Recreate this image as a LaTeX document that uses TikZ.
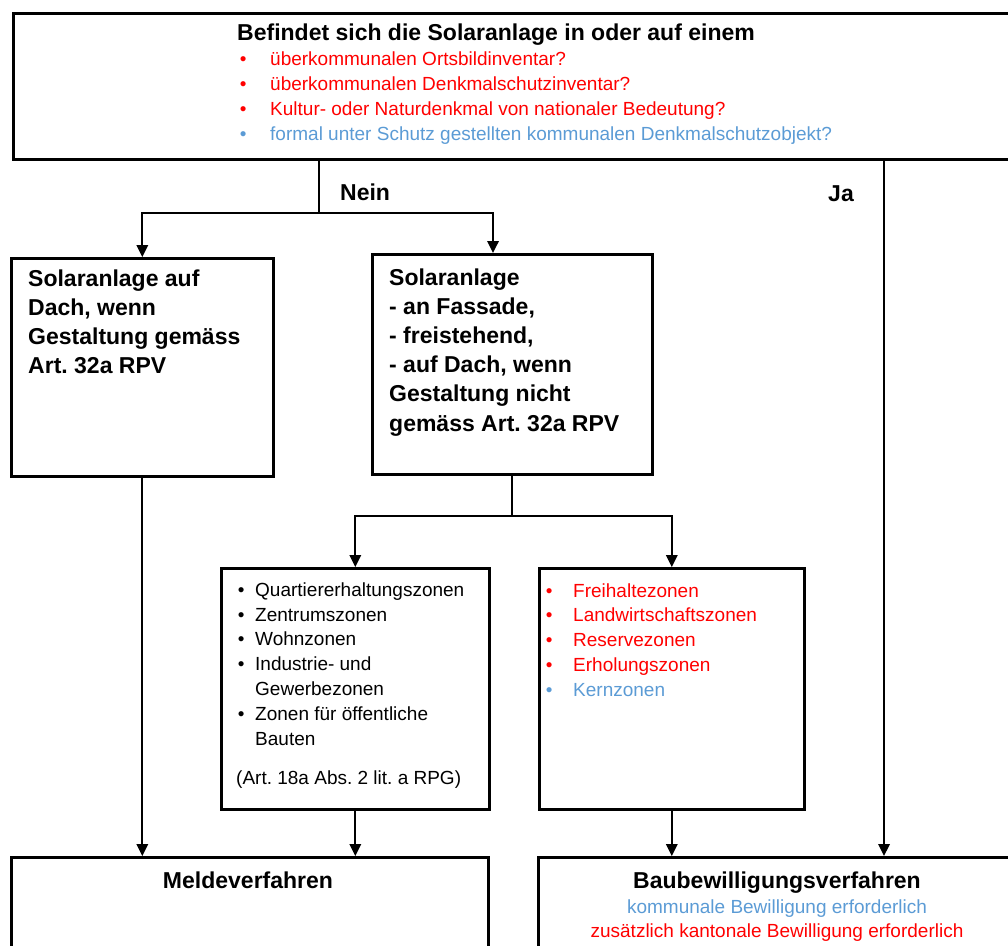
\documentclass[tikz,border=0pt]{standalone}
\usepackage{fontspec}
\setmainfont{Liberation Sans}
\usetikzlibrary{arrows.meta,calc}
\definecolor{rd}{RGB}{255,0,0}
\definecolor{bl}{RGB}{91,155,213}
\newcommand\bul[3]{\makebox[#1][l]{\textcolor{#2}{•}}\textcolor{#2}{#3}}
\frenchspacing
\begin{document}
\begin{tikzpicture}[x=1pt,y=-1pt,
  box/.style={draw,line width=2.6pt,anchor=north west,inner sep=0pt},
  conn/.style={line width=1.8pt},
  arr/.style={conn,-{Triangle[length=12pt,width=11.5pt]}},
  reg/.style={font=\fontsize{19}{24.8}\selectfont,inner sep=0pt,anchor=base west,align=left},
  bold/.style={font=\fontsize{23}{29.2}\bfseries\selectfont,inner sep=0pt,anchor=base west,align=left},
  ]
\useasboundingbox (0,0) rectangle (1008,945);
\clip (0,0) rectangle (1008,945);
% boxes
\node[box,minimum width=1030pt,minimum height=146pt] (q) at (12,12) {};
\node[box,minimum width=262pt,minimum height=218pt] (a) at (10,257) {};
\node[box,minimum width=280pt,minimum height=220pt] (b) at (371,253) {};
\node[box,minimum width=268pt,minimum height=241pt] (c) at (220,567) {};
\node[box,minimum width=265pt,minimum height=241pt] (d) at (538,567) {};
\node[box,minimum width=477pt,minimum height=150pt] (e) at (10,856) {};
\node[box,minimum width=500pt,minimum height=150pt] (f) at (537,856) {};
% texts (base anchor = baseline of the last line)
\node[bold] (qt) at (237,40) {Befindet sich die Solaranlage in oder auf einem};
\node[reg,font=\fontsize{19}{25}\selectfont] (ql) at (239.7,140) {\bul{30.3pt}{rd}{überkommunalen Ortsbildinventar?}\\
  \bul{30.3pt}{rd}{überkommunalen Denkmalschutzinventar?}\\
  \bul{30.3pt}{rd}{Kultur- oder Naturdenkmal von nationaler Bedeutung?}\\
  \bul{30.3pt}{bl}{formal unter Schutz gestellten kommunalen Denkmalschutzobjekt?}};
\node[bold] (nein) at (340,200) {Nein};
\node[bold] (ja) at (828,201) {Ja};
\node[bold] (at) at (28,373.6) {Solaranlage auf\\Dach, wenn\\Gestaltung gemäss\\Art. 32a RPV};
\node[bold] (bt) at (389,431) {Solaranlage\\- an Fassade,\\- freistehend,\\- auf Dach, wenn\\Gestaltung nicht\\gemäss Art. 32a RPV};
\node[reg] (ct) at (237.7,745) {\bul{17.3pt}{black}{Quartiererhaltungszonen}\\
  \bul{17.3pt}{black}{Zentrumszonen}\\
  \bul{17.3pt}{black}{Wohnzonen}\\
  \bul{17.3pt}{black}{Industrie- und}\\
  \hspace*{17.3pt}Gewerbezonen\\
  \bul{17.3pt}{black}{Zonen für öffentliche}\\
  \hspace*{17.3pt}Bauten};
\node[reg] (cr) at (236,784) {(Art. 18a Abs. 2 lit. a RPG)};
\node[reg] (dt) at (545.7,696.2) {\bul{27.3pt}{rd}{Freihaltezonen}\\
  \bul{27.3pt}{rd}{Landwirtschaftszonen}\\
  \bul{27.3pt}{rd}{Reservezonen}\\
  \bul{27.3pt}{rd}{Erholungszonen}\\
  \bul{27.3pt}{bl}{Kernzonen}};
\node[bold,anchor=base] (et) at (248,888) {Meldeverfahren};
\node[bold,anchor=base] (ft) at (777,888) {Baubewilligungsverfahren};
\node[reg,anchor=base,text=bl] (ft2) at (777,913) {kommunale Bewilligung erforderlich};
\node[reg,anchor=base,text=rd] (ft3) at (777,937) {zusätzlich kantonale Bewilligung erforderlich};
% connectors
\coordinate (n1) at (319,213);
\coordinate (bx) at (493,0);
\coordinate (jx) at (884,0);
\draw[conn] (q.south -| n1) -- (n1);
\draw[arr] (n1) -| (a.north);
\draw[arr] (n1) -| (b.north -| bx);
\draw[arr] (q.south -| jx) -- (f.north -| jx);
\draw[arr] (a.south) -- (e.north -| a.south);
\path (b.south) ++(0,40) coordinate (n2);
\draw[conn] (b.south) -- (n2);
\draw[arr] (n2) -| (c.north);
\draw[arr] (n2) -| (d.north);
\draw[arr] (c.south) -- (e.north -| c.south);
\draw[arr] (d.south) -- (f.north -| d.south);
\end{tikzpicture}
\end{document}
